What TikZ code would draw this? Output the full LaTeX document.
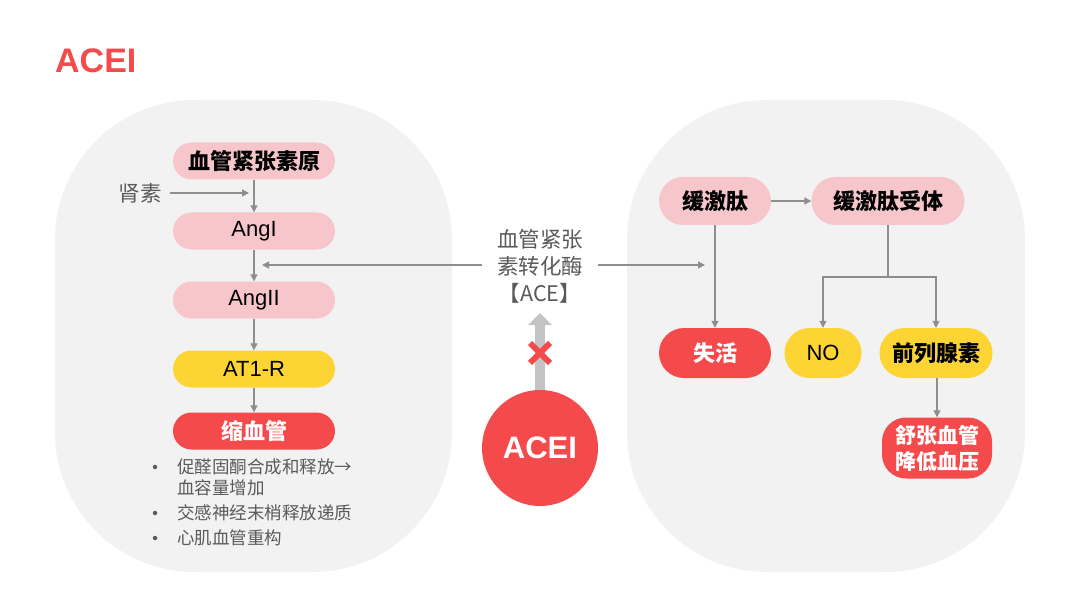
\documentclass[tikz,border=0pt]{standalone}
\usepackage{fontspec}
\setmainfont{Noto Sans CJK SC}
\newfontfamily\lat{Liberation Sans}
\usetikzlibrary{arrows.meta}
\definecolor{panelc}{HTML}{F2F2F2}
\definecolor{pinkc}{HTML}{F7C6CB}
\definecolor{yelc}{HTML}{FCD535}
\definecolor{redc}{HTML}{F54A4B}
\definecolor{linec}{HTML}{8E8E8E}
\definecolor{txtgray}{HTML}{5A5A5A}
\definecolor{bigarr}{HTML}{C4C4C4}
\tikzset{
  pillbase/.style={inner sep=0pt, align=center},
  lpill/.style={pillbase, minimum width=162pt, minimum height=37pt, rounded corners=18.5pt},
  rpill/.style={pillbase, minimum height=48pt, rounded corners=24pt},
  cjkb/.style={font=\bfseries\fontsize{22}{26}\selectfont},
  latf/.style={font=\lat\fontsize{22}{26}\selectfont},
  arr/.style={draw=linec, line width=1.2pt, -{Triangle[length=7pt,width=7pt]}},
  ln/.style={draw=linec, line width=1.2pt},
  graytxt/.style={text=txtgray, font=\fontsize{21.5}{27}\selectfont, inner sep=0pt},
  bul/.style={text=txtgray, font=\fontsize{17.5}{20}\selectfont, inner sep=0pt, anchor=west},
  dot/.style={circle, fill=txtgray, inner sep=0pt, minimum size=4.5pt},
}
\begin{document}
\begin{tikzpicture}[x=1pt,y=-1pt]
\useasboundingbox (0,0) rectangle (1080,607);
\fill[white] (0,0) rectangle (1080,607);
% panels
\fill[panelc, rounded corners=140pt] (55,100) rectangle (452,572);
\fill[panelc, rounded corners=140pt] (627,100) rectangle (1025,572);
% title
\node[anchor=west, inner sep=0pt, text=redc, font=\lat\bfseries\fontsize{34}{40}\selectfont] (title) at (55,61) {ACEI};
% left chain
\node[lpill, fill=pinkc, cjkb] (agt) at (254,161) {血管紧张素原};
\node[lpill, fill=pinkc, latf] (ang1) at (254,231) {AngI};
\node[lpill, fill=pinkc, latf] (ang2) at (254,300) {AngII};
\node[lpill, fill=yelc, latf] (at1) at (254,369) {AT1-R};
\node[lpill, fill=redc, cjkb, text=white] (con) at (254,431) {缩血管};
\draw[arr] (agt) -- (ang1);
\draw[arr] (ang1) -- (ang2);
\draw[arr] (ang2) -- (at1);
\draw[arr] (at1) -- (con);
\node[graytxt] (renin) at (140,193) {肾素};
\coordinate (rj) at (249,193);
\draw[arr] ([xshift=8pt]renin.east) -- (rj);
% bullets
\node[dot] (d1) at (155,467) {};
\node[bul] (t1) at (177,467) {促醛固酮合成和释放→};
\node[bul] (t1b) at (177,488) {血容量增加};
\node[dot] (d2) at (155,513) {};
\node[bul] (t2) at (177,513) {交感神经末梢释放递质};
\node[dot] (d3) at (155,538) {};
\node[bul] (t3) at (177,538) {心肌血管重构};
% ACE label
\node[graytxt, align=center] (ace) at (540,266) {血管紧张\\素转化酶\\【ACE】};
\coordinate (al) at (482,265);
\coordinate (ar) at (598,265);
\coordinate (ltg) at (262,265);
\coordinate (rtg) at (705,265);
\draw[arr] (al) -- (ltg);
\draw[arr] (ar) -- (rtg);
% ACEI
\node[circle, fill=redc, minimum size=116pt, inner sep=0pt, text=white, font=\lat\bfseries\fontsize{31}{34}\selectfont] (acei) at (540,448) {ACEI};
\coordinate (tip) at (540,313);
\draw[draw=bigarr, line width=10pt, -{Triangle[length=12pt,width=23pt]}] (acei.north) -- (tip);
\coordinate (xc) at (540,353);
\draw[redc, line width=6pt] ([shift={(-10,-10)}]xc) -- ([shift={(10,10)}]xc);
\draw[redc, line width=6pt] ([shift={(-10,10)}]xc) -- ([shift={(10,-10)}]xc);
% right
\node[rpill, fill=pinkc, cjkb, minimum width=112pt] (bk) at (715,201) {缓激肽};
\node[rpill, fill=pinkc, cjkb, minimum width=153pt] (bkr) at (888,201) {缓激肽受体};
\node[rpill, fill=redc, cjkb, text=white, minimum width=112pt, minimum height=50pt, rounded corners=25pt] (ina) at (715,353) {失活};
\node[rpill, fill=yelc, latf, minimum width=77pt, minimum height=50pt, rounded corners=25pt] (no) at (823,353) {NO};
\node[rpill, fill=yelc, cjkb, minimum width=113pt, minimum height=50pt, rounded corners=25pt] (pg) at (936,353) {前列腺素};
\node[rpill, fill=redc, cjkb, text=white, minimum width=110pt, minimum height=61pt, rounded corners=24pt, font=\bfseries\fontsize{21}{26}\selectfont] (vd) at (937,448) {舒张血管\\降低血压};
\draw[arr] (bk) -- (bkr);
\draw[arr] (bk) -- (ina);
\coordinate (br) at (888,277);
\draw[ln] (bkr) -- (br);
\draw[arr] (br) -| (no.north);
\draw[arr] (br) -| (pg.north);
\draw[arr] (pg.south -| vd.north) -- (vd.north);
\end{tikzpicture}
\end{document}
